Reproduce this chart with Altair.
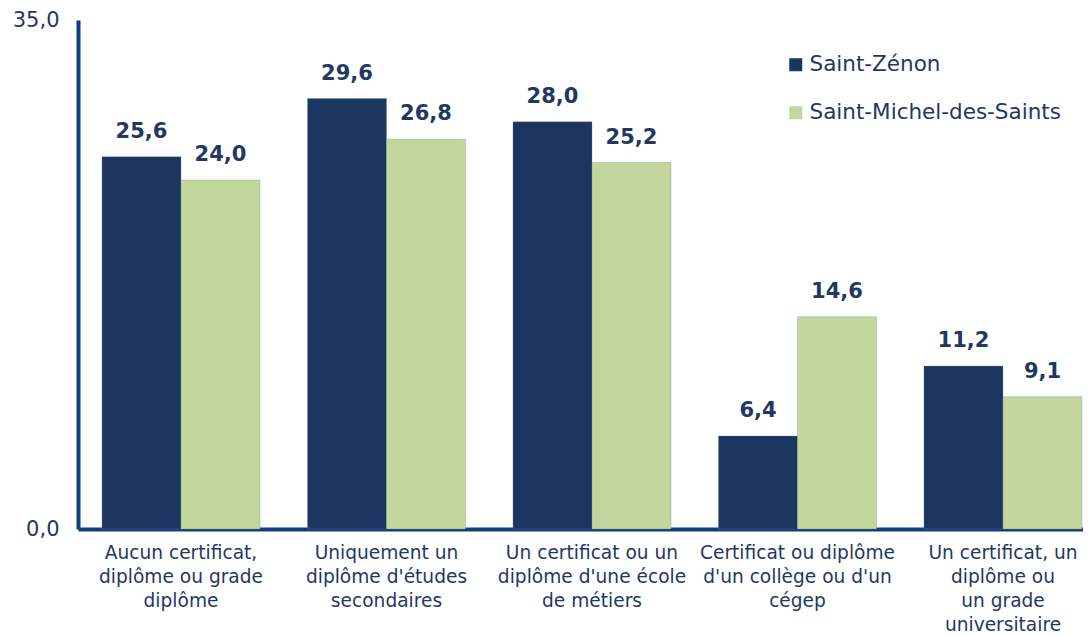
import altair as alt
import pandas as pd

# ---- data ----
categories = [
    ["Aucun certificat,", "diplôme ou grade", "diplôme"],
    ["Uniquement un", "diplôme d'études", "secondaires"],
    ["Un certificat ou un", "diplôme d'une école", "de métiers"],
    ["Certificat ou diplôme", "d'un collège ou d'un", "cégep"],
    ["Un certificat, un", "diplôme ou", "un grade", "universitaire"],
]
series = ["Saint-Zénon", "Saint-Michel-des-Saints"]
saint_zenon = [25.6, 29.6, 28.0, 6.4, 11.2]
saint_michel = [24.0, 26.8, 25.2, 14.6, 9.1]
colors = ["#1b365f", "#c3d69b"]

cat_keys = ["|".join(c) for c in categories]
rows = []
for i, k in enumerate(cat_keys):
    rows.append({"cat": k, "serie": series[0], "val": saint_zenon[i]})
    rows.append({"cat": k, "serie": series[1], "val": saint_michel[i]})
df = pd.DataFrame(rows)

FONT = "DejaVu Sans"
TXT = "#1f3864"
AXC = "#123f78"

x_enc = alt.X(
    "cat:N",
    sort=cat_keys,
    scale=alt.Scale(paddingInner=0.231, paddingOuter=0.0608, align=0.96),
    axis=alt.Axis(
        title=None,
        labelExpr="split(datum.label, '|')",
        labelAngle=0,
        labelFont=FONT,
        labelFontSize=18.6,
        labelLineHeight=24.3,
        labelColor=TXT,
        labelBaseline="top",
        labelPadding=14,
        labelLimit=400,
        labelOverlap=False,
        ticks=False,
        tickSize=0,
        domainColor=AXC,
        domainWidth=4,
        grid=False,
    ),
)
xo_enc = alt.XOffset("serie:N", sort=series,
                     scale=alt.Scale(domain=series, paddingInner=0, paddingOuter=0))
y_enc = alt.Y(
    "val:Q",
    scale=alt.Scale(domain=[0, 35], nice=False, zero=True),
    axis=alt.Axis(
        title=None,
        values=[0, 35],
        labelExpr="replace(format(datum.value, '.1f'), '.', ',')",
        labelFont=FONT,
        labelFontSize=21,
        labelColor=TXT,
        labelPadding=19,
        ticks=False,
        tickSize=0,
        grid=False,
        domainColor=AXC,
        domainWidth=4,
    ),
)
color_enc = alt.Color(
    "serie:N",
    sort=series,
    scale=alt.Scale(domain=series, range=colors),
    legend=alt.Legend(
        title=None,
        orient="none",
        legendX=707,
        legendY=34,
        symbolType="square",
        symbolSize=169,
        symbolStrokeWidth=0,
        labelFont=FONT,
        labelFontSize=21.5,
        labelColor=TXT,
        labelOffset=3,
        rowPadding=25,
        padding=0,
        labelLimit=400,
    ),
)

base = alt.Chart(df).encode(x=x_enc, xOffset=xo_enc, y=y_enc)

bars = base.mark_bar(stroke="#6b7f9e", strokeWidth=0.6, strokeOpacity=0.5).encode(color=color_enc)

labels = base.transform_calculate(
    lab="replace(format(datum.val, '.1f'), '.', ',')"
).mark_text(
    font=FONT, fontSize=21, fontWeight="bold", color=TXT, baseline="middle", dy=-25
).encode(text="lab:N")

chart = (
    alt.layer(bars, labels)
    .properties(
        width=1005,
        height=509,
        padding={"left": 70, "top": 12, "right": 0, "bottom": 107},
        autosize=alt.AutoSizeParams(type="none"),
    )
    .configure_view(stroke=None)
)

chart.save("out.html", embed_options={"renderer": "svg", "actions": False})
